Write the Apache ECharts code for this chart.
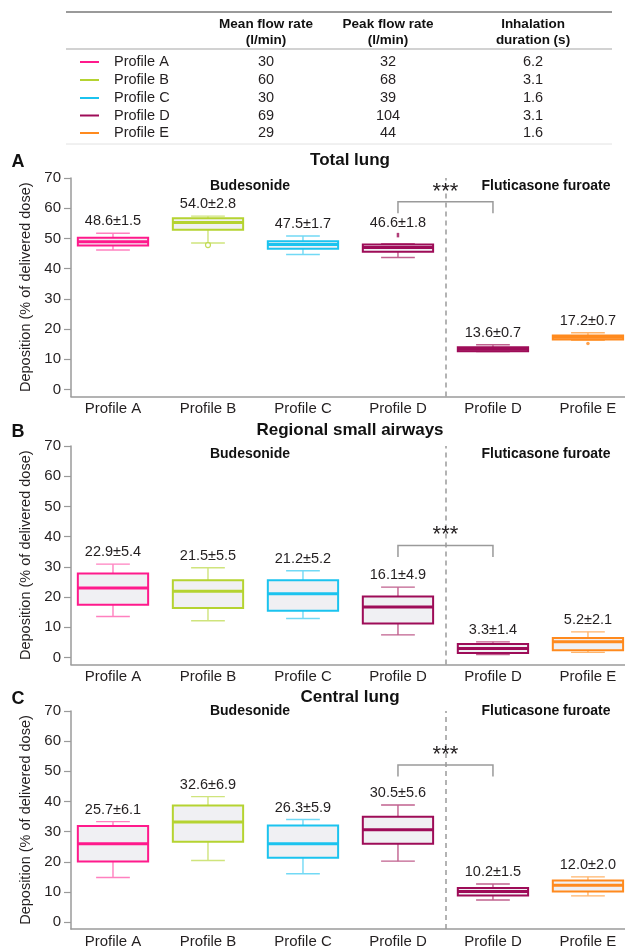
<!DOCTYPE html>
<html>
<head>
<meta charset="utf-8">
<script src="https://cdn.jsdelivr.net/npm/echarts@6/dist/echarts.min.js"></script>
<style>
  html, body { margin: 0; padding: 0; background: #ffffff; }
  #chart { width: 625px; height: 949px; }
</style>
</head>
<body>
<div id="chart"></div>
<script>
// ---- Inhalation profiles table ----
const tableProfiles = ['Profile A', 'Profile B', 'Profile C', 'Profile D', 'Profile E'];
const meanFlowRate = ['30', '60', '30', '69', '29'];
const peakFlowRate = ['32', '68', '39', '104', '44'];
const inhalationDuration = ['6.2', '3.1', '1.6', '3.1', '1.6'];
const tableHeaders = [['Mean flow rate', '(l/min)'], ['Peak flow rate', '(l/min)'], ['Inhalation', 'duration (s)']];

// ---- Box plot categories (budesonide A-D, fluticasone furoate D-E) ----
const categories = ['Profile A', 'Profile B', 'Profile C', 'Profile D', 'Profile D', 'Profile E'];
const panelTitles = ['Total lung', 'Regional small airways', 'Central lung'];
const panelLetters = ['A', 'B', 'C'];
const yTicks = [0, 10, 20, 30, 40, 50, 60, 70];

// [lower whisker, Q1, median, Q3, upper whisker]
const totalLungBoxes = [
  [46.2, 47.7, 48.9, 50.2, 51.7],
  [48.5, 52.9, 55.3, 56.7, 57.4],
  [44.7, 46.6, 48.0, 49.1, 50.8],
  [43.7, 45.6, 47.0, 48.0, 48.3],
  [12.6, 12.7, 13.3, 14.0, 14.8],
  [16.3, 16.6, 17.3, 17.9, 18.8]
];
const totalLungOutliers = [[1, 47.8], [3, 51.1], [5, 15.2]];
const totalLungMeans = ['48.6±1.5', '54.0±2.8', '47.5±1.7', '46.6±1.8', '13.6±0.7', '17.2±0.7'];

const smallAirwaysBoxes = [
  [13.6, 17.5, 23.0, 27.8, 30.9],
  [12.2, 16.4, 21.9, 25.6, 29.7],
  [12.9, 15.5, 21.1, 25.6, 28.7],
  [7.5, 11.3, 16.7, 20.2, 23.3],
  [1.0, 1.5, 3.0, 4.5, 5.2],
  [1.7, 2.4, 5.2, 6.5, 8.5]
];
const smallAirwaysOutliers = [];
const smallAirwaysMeans = ['22.9±5.4', '21.5±5.5', '21.2±5.2', '16.1±4.9', '3.3±1.4', '5.2±2.1'];

const centralLungBoxes = [
  [14.8, 20.1, 26.0, 31.9, 33.3],
  [20.4, 26.6, 33.2, 38.7, 41.6],
  [16.0, 21.3, 26.0, 32.0, 34.0],
  [20.2, 26.0, 30.6, 34.9, 38.8],
  [7.3, 8.8, 10.1, 11.3, 12.6],
  [8.7, 10.1, 12.2, 13.8, 15.0]
];
const centralLungOutliers = [];
const centralLungMeans = ['25.7±6.1', '32.6±6.9', '26.3±5.9', '30.5±5.6', '10.2±1.5', '12.0±2.0'];

// significance bracket level (Profile D budesonide vs Profile D fluticasone furoate)
const bracketLevels = [62.1, 37.1, 52.1];
const significance = '***';

// ---- styling ----
const FONT = '"Liberation Sans", Arial, Helvetica, sans-serif';
const TEXT = '#231f20';
const AXIS = '#9a9a9a';
const profileColor = { A: '#ff1a8c', B: '#b5d331', C: '#1bc3ef', D: '#9e0c58', E: '#ff8a1e' };
const whiskerColor = { A: '#ff80bf', B: '#cfe47c', C: '#72d9f5', D: '#c0608e', E: '#ffb46b' };
const catKey = c => c.slice(-1);

const panels = [
  { boxes: totalLungBoxes, outliers: totalLungOutliers, means: totalLungMeans, top: 178 },
  { boxes: smallAirwaysBoxes, outliers: smallAirwaysOutliers, means: smallAirwaysMeans, top: 446 },
  { boxes: centralLungBoxes, outliers: centralLungOutliers, means: centralLungMeans, top: 711 }
];
const gridHeight = 218.5;
const yMin = -2.3, yMax = 70;
const xMin = -0.442, xMax = 5.39;

const grids = [], xAxes = [], yAxes = [], series = [], graphics = [];

function boxRenderer(panel) {
  return function (params, api) {
    const i = api.value(0);
    const key = catKey(categories[i]);
    const c = profileColor[key], wc = whiskerColor[key];
    const lo = api.coord([i, api.value(1)]);
    const q1 = api.coord([i, api.value(2)]);
    const md = api.coord([i, api.value(3)]);
    const q3 = api.coord([i, api.value(4)]);
    const hi = api.coord([i, api.value(5)]);
    const cx = lo[0];
    const bw = api.size([0.74, 0])[0];
    const cw = bw * 0.48;
    // mean label sits above the highest drawn point (whisker or outlier)
    let topVal = api.value(5);
    panel.outliers.forEach(o => { if (o[0] === i && o[1] > topVal) topVal = o[1]; });
    const lab = api.coord([i, topVal]);
    const wStyle = { stroke: wc, lineWidth: 1.4 };
    return {
      type: 'group',
      children: [
        { type: 'line', shape: { x1: cx, y1: hi[1], x2: cx, y2: q3[1] }, style: wStyle },
        { type: 'line', shape: { x1: cx, y1: q1[1], x2: cx, y2: lo[1] }, style: wStyle },
        { type: 'line', shape: { x1: cx - cw / 2, y1: hi[1], x2: cx + cw / 2, y2: hi[1] }, style: wStyle },
        { type: 'line', shape: { x1: cx - cw / 2, y1: lo[1], x2: cx + cw / 2, y2: lo[1] }, style: wStyle },
        { type: 'rect', shape: { x: cx - bw / 2, y: q3[1], width: bw, height: Math.max(q1[1] - q3[1], 1) },
          style: { fill: '#f0f0f3', stroke: c, lineWidth: 2 } },
        { type: 'line', shape: { x1: cx - bw / 2, y1: md[1], x2: cx + bw / 2, y2: md[1] },
          style: { stroke: c, lineWidth: 3 } },
        { type: 'text', x: cx, y: lab[1] - 12,
          style: { text: panel.means[i], fill: TEXT, fontSize: 14.5, fontFamily: FONT,
                   textAlign: 'center', textVerticalAlign: 'middle' } }
      ]
    };
  };
}

function bracketRenderer(params, api) {
  const a = api.coord([api.value(0), api.value(2)]);
  const b = api.coord([api.value(1), api.value(2)]);
  const leg = 11.5;
  return {
    type: 'group',
    children: [
      { type: 'polyline', shape: { points: [[a[0], a[1] + leg], [a[0], a[1]], [b[0], b[1]], [b[0], b[1] + leg]] },
        style: { stroke: AXIS, lineWidth: 1.5, fill: null } },
      { type: 'text', x: (a[0] + b[0]) / 2, y: a[1] + 1,
        style: { text: significance, fill: TEXT, fontSize: 22, fontFamily: FONT,
                 textAlign: 'center', textVerticalAlign: 'bottom' } }
    ]
  };
}

panels.forEach((p, k) => {
  grids.push({ left: 71, right: 0, top: p.top, height: gridHeight, containLabel: false });
  xAxes.push({
    type: 'value', gridIndex: k, min: xMin, max: xMax,
    axisLine: { show: true, onZero: false, lineStyle: { color: AXIS, width: 1.5 } },
    axisTick: { show: false },
    splitLine: { show: false },
    axisLabel: {
      customValues: [0, 1, 2, 3, 4, 5],
      formatter: v => categories[Math.round(v)],
      fontSize: 15, color: TEXT, fontFamily: FONT, margin: 5
    }
  });
  yAxes.push({
    type: 'value', gridIndex: k, min: yMin, max: yMax,
    name: 'Deposition (% of delivered dose)',
    nameLocation: 'middle', nameGap: 32,
    nameTextStyle: { fontSize: 14.5, color: TEXT, fontFamily: FONT },
    axisLine: { show: true, onZero: false, lineStyle: { color: AXIS, width: 1.5 } },
    axisTick: { show: true, customValues: yTicks, length: 7, lineStyle: { color: AXIS, width: 1.2 } },
    axisLabel: { customValues: yTicks, fontSize: 15, color: TEXT, fontFamily: FONT, margin: 10 },
    splitLine: { show: false }
  });

  series.push({
    type: 'custom', xAxisIndex: k, yAxisIndex: k,
    renderItem: boxRenderer(p),
    encode: { x: 0, y: [1, 2, 3, 4, 5] },
    data: p.boxes.map((b, i) => [i].concat(b)),
    z: 3,
    markLine: {
      silent: true, symbol: 'none', label: { show: false },
      lineStyle: { color: AXIS, width: 1.5, type: [5, 4] },
      data: [{ xAxis: 3.5 }]
    }
  });
  if (p.outliers.length) {
    series.push({
      type: 'scatter', xAxisIndex: k, yAxisIndex: k, z: 4,
      data: p.outliers.map(o => {
        const key = catKey(categories[o[0]]);
        const hollow = key === 'B';
        return {
          value: o,
          symbol: key === 'D' ? 'rect' : 'circle',
          symbolSize: key === 'D' ? [2.5, 4.5] : (hollow ? 5 : 3.5),
          itemStyle: hollow ? { color: '#ffffff', borderColor: profileColor[key], borderWidth: 1.2 }
                            : { color: profileColor[key] }
        };
      })
    });
  }
  series.push({
    type: 'custom', xAxisIndex: k, yAxisIndex: k, z: 5,
    renderItem: bracketRenderer,
    encode: { x: [0, 1], y: 2 },
    data: [[3, 4, bracketLevels[k]]]
  });
});

// panel headings and drug labels
const titleY = [160, 430, 697];
const drugY = [186, 454, 711];
titleY.forEach((y, k) => {
  graphics.push({ type: 'text', x: 18, y: y + 2,
    style: { text: panelLetters[k], fill: '#111', fontSize: 18, fontWeight: 'bold', fontFamily: FONT,
             textAlign: 'center', textVerticalAlign: 'middle' } });
  graphics.push({ type: 'text', x: 350, y: y,
    style: { text: panelTitles[k], fill: '#111', fontSize: 17, fontWeight: 'bold', fontFamily: FONT,
             textAlign: 'center', textVerticalAlign: 'middle' } });
  graphics.push({ type: 'text', x: 250, y: drugY[k],
    style: { text: 'Budesonide', fill: '#111', fontSize: 14, fontWeight: 'bold', fontFamily: FONT,
             textAlign: 'center', textVerticalAlign: 'middle' } });
  graphics.push({ type: 'text', x: 546, y: drugY[k],
    style: { text: 'Fluticasone furoate', fill: '#111', fontSize: 14, fontWeight: 'bold', fontFamily: FONT,
             textAlign: 'center', textVerticalAlign: 'middle' } });
});

// inhalation profile table
const colX = [266, 388, 533];
const rowY = [62, 80, 98, 115.5, 133];
graphics.push({ type: 'line', shape: { x1: 66, y1: 12, x2: 612, y2: 12 }, style: { stroke: '#9a9a9a', lineWidth: 2 } });
graphics.push({ type: 'line', shape: { x1: 66, y1: 49, x2: 612, y2: 49 }, style: { stroke: '#a5a5a5', lineWidth: 1.2 } });
graphics.push({ type: 'line', shape: { x1: 66, y1: 144, x2: 612, y2: 144 }, style: { stroke: '#e2e2e2', lineWidth: 1 } });
tableHeaders.forEach((h, j) => {
  h.forEach((line, r) => {
    graphics.push({ type: 'text', x: colX[j], y: 24 + r * 16,
      style: { text: line, fill: '#111', fontSize: 13.5, fontWeight: 'bold', fontFamily: FONT,
               textAlign: 'center', textVerticalAlign: 'middle' } });
  });
});
tableProfiles.forEach((name, r) => {
  const y = rowY[r];
  graphics.push({ type: 'line', shape: { x1: 80, y1: y, x2: 99, y2: y },
    style: { stroke: profileColor[catKey(name)], lineWidth: 2 } });
  graphics.push({ type: 'text', x: 114, y: y,
    style: { text: name, fill: TEXT, fontSize: 14.5, fontFamily: FONT, textAlign: 'left', textVerticalAlign: 'middle' } });
  [meanFlowRate[r], peakFlowRate[r], inhalationDuration[r]].forEach((v, j) => {
    graphics.push({ type: 'text', x: colX[j], y: y,
      style: { text: v, fill: TEXT, fontSize: 14.5, fontFamily: FONT, textAlign: 'center', textVerticalAlign: 'middle' } });
  });
});

const chart = echarts.init(document.getElementById('chart'), null, { renderer: 'canvas' });
chart.setOption({
  animation: false,
  backgroundColor: '#ffffff',
  textStyle: { fontFamily: FONT },
  grid: grids,
  xAxis: xAxes,
  yAxis: yAxes,
  series: series,
  graphic: { elements: graphics }
});
</script>
</body>
</html>
